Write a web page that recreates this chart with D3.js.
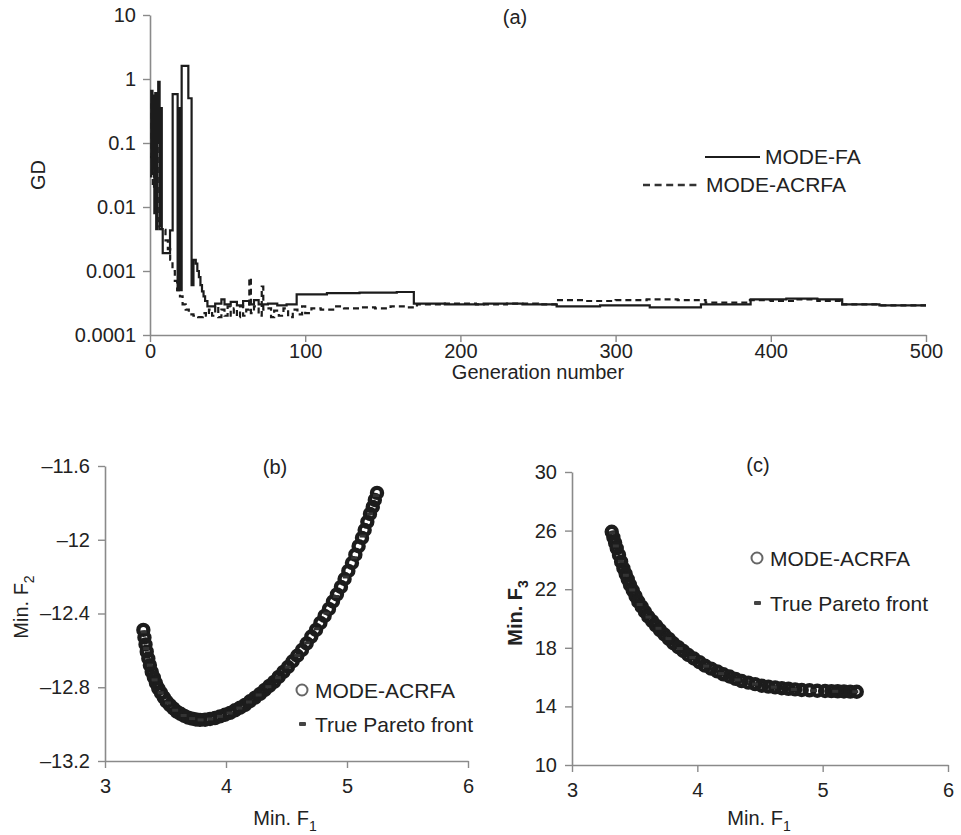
<!DOCTYPE html>
<html>
<head>
<meta charset="utf-8">
<script src="https://cdnjs.cloudflare.com/ajax/libs/d3/7.8.5/d3.min.js"></script>
<style>
  body { margin: 0; background: #fff; }
  text { font-family: "Liberation Sans", Arial, sans-serif; fill: #222; }
</style>
</head>
<body>
<svg id="chart" width="961" height="835"></svg>
<script>
// ---- data: (a) GD vs generation, step series [generation, GD]
const genTicks = [0, 100, 200, 300, 400, 500];
const gdTicks = [0.0001, 0.001, 0.01, 0.1, 1, 10];
const gdTickLabels = ["0.0001", "0.001", "0.01", "0.1", "1", "10"];

const faSteps = [
  [0, 0.03], [0.8, 0.65], [1.6, 0.04], [2.2, 0.55], [2.8, 0.008], [3.4, 0.6],
  [4, 0.0045], [4.6, 0.1], [5.3, 0.9], [6.2, 0.005], [7, 0.35], [7.6, 0.0045],
  [8.2, 0.0019], [12.9, 0.0043], [14.6, 0.58], [17.8, 0.0005], [18.5, 0.35],
  [19.3, 0.0005], [20.4, 1.6], [24.7, 0.5], [26.8, 0.0006], [28, 0.0015],
  [29.5, 0.0013], [30.5, 0.001], [31.5, 0.0008], [32.5, 0.0006], [33.5, 0.00048],
  [34.5, 0.0004], [35.5, 0.00034], [37, 0.00028], [42, 0.00031], [46, 0.00036],
  [48, 0.0003], [52, 0.00033], [56, 0.00029], [60, 0.00034], [64, 0.0003],
  [67, 0.00035], [70, 0.0003], [76, 0.00031], [82, 0.00029], [88, 0.0003],
  [94.5, 0.00043], [114, 0.00045], [135, 0.00046], [159, 0.00047], [170, 0.00031],
  [190, 0.0003], [215, 0.00031], [240, 0.0003], [262, 0.00028], [290, 0.00029],
  [322, 0.00027], [355, 0.0003], [387, 0.00036], [410, 0.00037], [430, 0.00036],
  [446, 0.0003], [470, 0.00029], [500, 0.00029]
];

const acrfaSteps = [
  [0, 0.06], [1, 0.4], [1.8, 0.02], [2.6, 0.3], [3.3, 0.01], [4.2, 0.2],
  [5, 0.006], [6, 0.0045], [8.6, 0.0044], [10, 0.003], [11.5, 0.0022],
  [13, 0.0015], [14.5, 0.001], [16, 0.0007], [17.5, 0.0005], [19.3, 0.0004],
  [21, 0.0003], [23, 0.00025], [25, 0.00021], [28, 0.0002], [31, 0.00019],
  [34, 0.00022], [36, 0.0002], [38, 0.00025], [40, 0.0002], [42, 0.00028],
  [44, 0.00019], [46, 0.00025], [48, 0.0002], [50, 0.00028], [52, 0.0002],
  [54, 0.00026], [56, 0.00019], [58, 0.00028], [60, 0.0002], [62, 0.00025],
  [64, 0.00078], [65, 0.00022], [67, 0.00028], [70, 0.0002], [72, 0.00057],
  [73, 0.00025], [75, 0.00026], [78, 0.00019], [80, 0.00024], [83, 0.0002],
  [86, 0.00026], [89, 0.00019], [92, 0.00025], [95, 0.00021], [98, 0.00028],
  [100, 0.00022], [104, 0.00026], [110, 0.00025], [118, 0.00028], [125, 0.00026],
  [135, 0.00027], [145, 0.00026], [155, 0.00028], [165, 0.00027], [172, 0.0003],
  [190, 0.00031], [210, 0.0003], [230, 0.00031], [250, 0.0003], [262, 0.00035],
  [280, 0.00034], [300, 0.00035], [320, 0.00036], [340, 0.00035], [358, 0.00032],
  [385, 0.00035], [400, 0.00034], [415, 0.00036], [430, 0.00034], [445, 0.0003],
  [470, 0.00029], [500, 0.00029]
];

// ---- data: (b) F1 vs F2
const f1Ticks = [3, 4, 5, 6];
const f2Ticks = [-13.2, -12.8, -12.4, -12, -11.6];
const f2TickLabels = ["\u201313.2", "\u201312.8", "\u201312.4", "\u201312", "\u201311.6"];

const bModeF1 = [3.317, 3.326, 3.335, 3.345, 3.358, 3.371, 3.386, 3.404, 3.421, 3.440,
  3.463, 3.486, 3.510, 3.537, 3.565, 3.593, 3.625, 3.656, 3.688, 3.720, 3.752, 3.785,
  3.827, 3.868, 3.909, 3.950, 3.992, 4.033, 4.074, 4.116, 4.157, 4.198, 4.240, 4.281,
  4.320, 4.358, 4.397, 4.435, 4.474, 4.512, 4.551, 4.589, 4.628, 4.667, 4.705, 4.744,
  4.780, 4.815, 4.851, 4.884, 4.917, 4.950, 4.980, 5.011, 5.041, 5.069, 5.096, 5.124,
  5.146, 5.168, 5.190, 5.213, 5.230, 5.248];
const bModeF2 = [-12.489, -12.530, -12.568, -12.607, -12.644, -12.680, -12.716, -12.747,
  -12.777, -12.806, -12.831, -12.855, -12.878, -12.897, -12.915, -12.932, -12.944,
  -12.955, -12.965, -12.970, -12.975, -12.977, -12.976, -12.972, -12.967, -12.958,
  -12.949, -12.939, -12.925, -12.911, -12.896, -12.876, -12.856, -12.836, -12.814,
  -12.793, -12.771, -12.744, -12.717, -12.690, -12.659, -12.629, -12.598, -12.562,
  -12.525, -12.489, -12.451, -12.413, -12.375, -12.335, -12.296, -12.256, -12.213,
  -12.169, -12.126, -12.081, -12.035, -11.990, -11.947, -11.903, -11.860, -11.822,
  -11.784, -11.746];

const bTrueF1 = [3.32, 3.34, 3.37, 3.41, 3.46, 3.52, 3.58, 3.65, 3.72, 3.79, 3.87, 3.95,
  4.03, 4.11, 4.19, 4.27, 4.35, 4.43, 4.51, 4.59, 4.67, 4.75, 4.83, 4.91, 4.99, 5.06,
  5.13, 5.19, 5.24];
const bTrueF2 = [-12.50, -12.59, -12.68, -12.76, -12.83, -12.885, -12.925, -12.953,
  -12.970, -12.977, -12.972, -12.958, -12.940, -12.913, -12.880, -12.842, -12.797,
  -12.748, -12.691, -12.628, -12.559, -12.483, -12.398, -12.308, -12.202, -12.098,
  -11.980, -11.860, -11.76];

// ---- data: (c) F1 vs F3
const f3Ticks = [10, 14, 18, 22, 26, 30];

const cModeF1 = [3.317, 3.330, 3.344, 3.357, 3.375, 3.392, 3.410, 3.428, 3.445, 3.463,
  3.485, 3.507, 3.529, 3.556, 3.582, 3.609, 3.640, 3.671, 3.702, 3.737, 3.773, 3.808,
  3.848, 3.888, 3.928, 3.972, 4.017, 4.061, 4.110, 4.159, 4.208, 4.257, 4.305, 4.354,
  4.407, 4.461, 4.514, 4.567, 4.621, 4.674, 4.727, 4.780, 4.833, 4.895, 4.957, 5.019,
  5.070, 5.120, 5.170, 5.220, 5.272];
const cModeF3 = [25.92, 25.54, 25.17, 24.79, 24.34, 23.88, 23.43, 23.05, 22.67, 22.29,
  21.91, 21.53, 21.15, 20.81, 20.46, 20.12, 19.82, 19.51, 19.21, 18.91, 18.61, 18.31,
  18.04, 17.78, 17.51, 17.27, 17.02, 16.78, 16.58, 16.39, 16.19, 16.04, 15.88, 15.73,
  15.62, 15.52, 15.41, 15.35, 15.30, 15.24, 15.20, 15.16, 15.12, 15.10, 15.07, 15.05,
  15.04, 15.03, 15.02, 15.01, 15.00];

const cTrueF1 = [3.32, 3.35, 3.39, 3.43, 3.48, 3.54, 3.61, 3.69, 3.77, 3.86, 3.96, 4.07,
  4.19, 4.32, 4.46, 4.61, 4.77, 4.93, 5.10, 5.26];
const cTrueF3 = [25.85, 24.95, 23.9, 22.95, 21.95, 20.95, 20.1, 19.33, 18.63, 17.95,
  17.33, 16.75, 16.24, 15.81, 15.52, 15.31, 15.16, 15.08, 15.03, 15.0];

// ---- drawing
const svg = d3.select("#chart");
const axisColor = "#8a8a8a";
const ink = "#1c1c1c";

function styleAxis(g, fontSize) {
  g.select(".domain").attr("stroke", axisColor).attr("stroke-width", 1.6);
  g.selectAll(".tick line").attr("stroke", axisColor).attr("stroke-width", 1.4);
  g.selectAll(".tick text")
    .attr("fill", "#222")
    .style("font-size", fontSize + "px")
    .style("font-family", '"Liberation Sans", Arial, sans-serif');
}

function drawAxes(x, y, xTicks, yTicks, yLabels, xPad, yPad) {
  const xAxis = svg.append("g")
    .attr("transform", `translate(0,${y.range()[0]})`)
    .call(d3.axisBottom(x).tickValues(xTicks).tickSize(7).tickSizeOuter(0)
      .tickPadding(xPad).tickFormat(d3.format("d")));
  styleAxis(xAxis, 20);
  const yAxis = svg.append("g")
    .attr("transform", `translate(${x.range()[0]},0)`)
    .call(d3.axisLeft(y).tickValues(yTicks).tickSize(7).tickSizeOuter(0)
      .tickPadding(yPad).tickFormat((d, i) => yLabels[i]));
  styleAxis(yAxis, 20);
}

function label(x, y, txt, size, opts = {}) {
  const t = svg.append("text")
    .attr("x", x).attr("y", y)
    .attr("text-anchor", opts.anchor || "middle")
    .style("font-size", size + "px");
  if (opts.rotate) t.attr("transform", `rotate(-90,${x},${y})`);
  if (opts.bold) t.style("font-weight", "bold");
  t.append("tspan").text(txt);
  if (opts.sub) {
    t.append("tspan").attr("dy", 6).style("font-size", "14px").text(opts.sub);
  }
  return t;
}

// (a)
const xa = d3.scaleLinear().domain([0, 500]).range([150, 926]);
const ya = d3.scaleLog().domain([0.0001, 10]).range([335, 15]);
drawAxes(xa, ya, genTicks, gdTicks, gdTickLabels, 2, 7);

const stepLine = d3.line()
  .curve(d3.curveStepAfter)
  .x(d => xa(d[0]))
  .y(d => ya(d[1]));

svg.append("path").datum(acrfaSteps)
  .attr("fill", "none").attr("stroke", ink).attr("stroke-width", 2.2)
  .attr("stroke-dasharray", "6,4")
  .attr("d", stepLine);
svg.append("path").datum(faSteps)
  .attr("fill", "none").attr("stroke", ink).attr("stroke-width", 2.2)
  .attr("d", stepLine);

label(515, 24, "(a)", 20);
label(45, 175, "GD", 20, { rotate: true });
label(538, 379, "Generation number", 20);

// legend (a)
svg.append("line").attr("x1", 705).attr("x2", 760).attr("y1", 157).attr("y2", 157)
  .attr("stroke", ink).attr("stroke-width", 2.2);
label(765, 164, "MODE-FA", 21, { anchor: "start" });
svg.append("line").attr("x1", 643).attr("x2", 701).attr("y1", 185).attr("y2", 185)
  .attr("stroke", "#333").attr("stroke-width", 2.6).attr("stroke-dasharray", "7,4.6");
label(706, 192, "MODE-ACRFA", 21, { anchor: "start" });

// scatter helper
function scatter(x, y, modeX, modeY, trueX, trueY) {
  const g = svg.append("g");
  g.selectAll("circle.mode")
    .data(d3.range(modeX.length))
    .join("circle")
    .attr("class", "mode")
    .attr("cx", i => x(modeX[i]))
    .attr("cy", i => y(modeY[i]))
    .attr("r", 5)
    .attr("fill", "none")
    .attr("stroke", ink)
    .attr("stroke-width", 4.4);
  g.selectAll("rect.true")
    .data(d3.range(trueX.length))
    .join("rect")
    .attr("class", "true")
    .attr("x", i => x(trueX[i]) - 3)
    .attr("y", i => y(trueY[i]) - 1.5)
    .attr("width", 6)
    .attr("height", 3)
    .attr("fill", "#333");
}

function scatterLegend(cx, cy1, cy2) {
  svg.append("circle").attr("cx", cx).attr("cy", cy1).attr("r", 5.5)
    .attr("fill", "none").attr("stroke", "#666").attr("stroke-width", 2);
  label(cx + 13, cy1 + 7.5, "MODE-ACRFA", 21, { anchor: "start" });
  svg.append("rect").attr("x", cx - 3).attr("y", cy2 - 2).attr("width", 7).attr("height", 4)
    .attr("rx", 1).attr("fill", "#444");
  label(cx + 13, cy2 + 7.5, "True Pareto front", 21, { anchor: "start" });
}

// (b)
const xb = d3.scaleLinear().domain([3, 6]).range([105, 468]);
const yb = d3.scaleLinear().domain([-13.2, -11.6]).range([761, 466]);
drawAxes(xb, yb, f1Ticks, f2Ticks, f2TickLabels, 11, 8);
scatter(xb, yb, bModeF1, bModeF2, bTrueF1, bTrueF2);
scatterLegend(302, 690, 724);
label(275, 474, "(b)", 20);
label(28, 607, "Min. F", 20, { rotate: true, sub: "2" });
label(285, 825, "Min. F", 20, { sub: "1" });

// (c)
const xc = d3.scaleLinear().domain([3, 6]).range([572, 948]);
const yc = d3.scaleLinear().domain([10, 30]).range([765, 472]);
drawAxes(xc, yc, f1Ticks, f3Ticks, f3Ticks.map(String), 11, 8);
scatter(xc, yc, cModeF1, cModeF3, cTrueF1, cTrueF3);
scatterLegend(757, 558, 603);
label(758, 472, "(c)", 20);
label(522, 613, "Min. F", 20, { rotate: true, bold: true, sub: "3" });
label(759, 825, "Min. F", 20, { sub: "1" });
</script>
</body>
</html>
